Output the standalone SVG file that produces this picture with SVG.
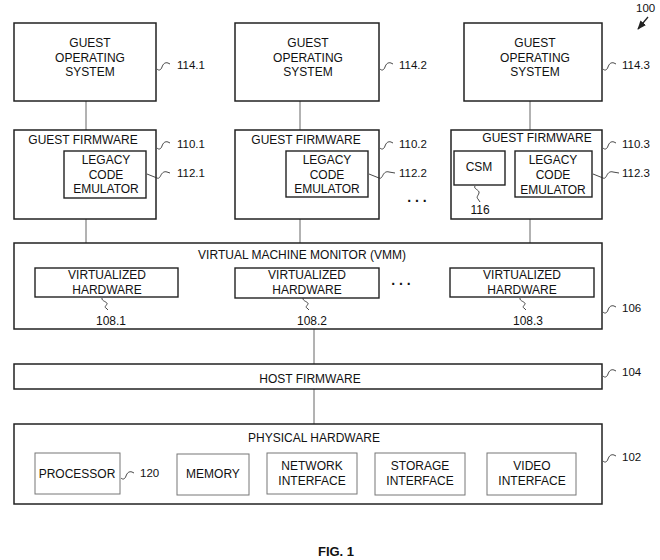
<svg xmlns="http://www.w3.org/2000/svg" width="660" height="560" viewBox="0 0 660 560">
<style>
text{font-family:"Liberation Sans",Arial,sans-serif;font-size:12px;fill:#111;text-anchor:middle}
.lbl{text-anchor:start;font-size:11.5px}
.box{fill:#fff;stroke:#222;stroke-width:1.5}
.ibox{fill:#fff;stroke:#222;stroke-width:1.4}
.hbox{fill:#fff;stroke:#777;stroke-width:1}
.con{stroke:#666;stroke-width:1;fill:none}
.sq{stroke:#333;stroke-width:0.9;fill:none}
.dots{font-size:14px;font-weight:bold}
</style>
<defs>
<marker id="ah" viewBox="0 0 10 10" refX="9" refY="5" markerWidth="7" markerHeight="7" orient="auto-start-reverse"><path d="M0,1 L10,5 L0,9 z" fill="#222"/></marker>
<path id="sqh" d="M0,0 c2,2 4,1 5,-2 s3,-5 6,-4 l2,1"/>
</defs>

<g id="connectors">
<line class="con" x1="86" y1="101" x2="86" y2="130"/>
<line class="con" x1="300" y1="101" x2="300" y2="130"/>
<line class="con" x1="530" y1="101" x2="530" y2="130"/>
<line class="con" x1="86" y1="219" x2="86" y2="243"/>
<line class="con" x1="300" y1="219" x2="300" y2="243"/>
<line class="con" x1="530" y1="219" x2="530" y2="243"/>
<line class="con" x1="314" y1="329" x2="314" y2="364"/>
<line class="con" x1="314" y1="389" x2="314" y2="424"/>
</g>

<g id="ref100">
<text class="lbl" x="636" y="12">100</text>
<line x1="648" y1="17" x2="638" y2="29" stroke="#222" stroke-width="1.3" marker-end="url(#ah)"/>
</g>

<g id="guest-os-1">
<rect class="box" x="14" y="23" width="142" height="78"/>
<text x="90" y="47">GUEST</text><text x="90" y="62">OPERATING</text><text x="90" y="76">SYSTEM</text>
<use href="#sqh" class="sq" x="157" y="69"/>
<text class="lbl" x="177" y="69">114.1</text>
</g>
<g id="guest-os-2">
<rect class="box" x="235" y="23" width="144" height="78"/>
<text x="308" y="47">GUEST</text><text x="308" y="62">OPERATING</text><text x="308" y="76">SYSTEM</text>
<use href="#sqh" class="sq" x="380" y="69"/>
<text class="lbl" x="399" y="69">114.2</text>
</g>
<g id="guest-os-3">
<rect class="box" x="464" y="23" width="138" height="78"/>
<text x="535" y="47">GUEST</text><text x="535" y="62">OPERATING</text><text x="535" y="76">SYSTEM</text>
<use href="#sqh" class="sq" x="603" y="69"/>
<text class="lbl" x="622" y="69">114.3</text>
</g>

<g id="guest-fw-1">
<rect class="box" x="14" y="130" width="142" height="89"/>
<text x="83" y="144">GUEST FIRMWARE</text>
<use href="#sqh" class="sq" x="157" y="148"/>
<text class="lbl" x="177" y="148">110.1</text>
</g>
<g id="lce-1">
<rect class="ibox" x="64" y="151" width="82" height="47"/>
<text x="106" y="164">LEGACY</text><text x="106" y="179">CODE</text><text x="106" y="193">EMULATOR</text>
<path class="sq" d="M147,174 l10,4 c2,1 3,-1 4,-3 s3,-4 6,-3 l3,1"/>
<text class="lbl" x="177" y="177">112.1</text>
</g>

<g id="guest-fw-2">
<rect class="box" x="235" y="130" width="144" height="89"/>
<text x="306" y="144">GUEST FIRMWARE</text>
<use href="#sqh" class="sq" x="380" y="148"/>
<text class="lbl" x="399" y="148">110.2</text>
</g>
<g id="lce-2">
<rect class="ibox" x="286" y="151" width="82" height="46"/>
<text x="327" y="164">LEGACY</text><text x="327" y="179">CODE</text><text x="327" y="193">EMULATOR</text>
<path class="sq" d="M369,174 l10,4 c2,1 3,-1 4,-3 s3,-4 6,-3 l6,1"/>
<text class="lbl" x="399" y="177">112.2</text>
</g>
<text class="dots" x="417" y="202">. . .</text>

<g id="guest-fw-3">
<rect class="box" x="451" y="130" width="151" height="89"/>
<text x="537" y="142">GUEST FIRMWARE</text>
<use href="#sqh" class="sq" x="603" y="148"/>
<text class="lbl" x="622" y="148">110.3</text>
</g>
<g id="csm">
<rect class="ibox" x="454" y="151" width="51" height="34"/>
<text x="479" y="171">CSM</text>
<path class="sq" d="M475,186 c-2,3 5,4 4,7 s-3,4 -1,6 l2,3"/>
<text x="480" y="214">116</text>
</g>
<g id="lce-3">
<rect class="ibox" x="515" y="151" width="77" height="46"/>
<text x="553" y="164">LEGACY</text><text x="553" y="179">CODE</text><text x="553" y="194">EMULATOR</text>
<path class="sq" d="M593,174 l10,4 c2,1 3,-1 4,-3 s3,-4 6,-3 l6,1"/>
<text class="lbl" x="622" y="177">112.3</text>
</g>

<g id="vmm">
<rect class="box" x="14" y="243" width="588" height="86"/>
<text x="302" y="259">VIRTUAL MACHINE MONITOR (VMM)</text>
<use href="#sqh" class="sq" x="603" y="312"/>
<text class="lbl" x="622" y="312">106</text>
</g>
<g id="vh-1">
<rect class="ibox" x="35" y="268" width="143" height="29"/>
<text x="107" y="279">VIRTUALIZED</text><text x="107" y="294">HARDWARE</text>
<path class="sq" d="M102,298 c-1,3 6,4 5,6 s-3,3 -1,4 l2,2"/>
<text x="111" y="325">108.1</text>
</g>
<g id="vh-2">
<rect class="ibox" x="235" y="268" width="144" height="30"/>
<text x="307" y="279">VIRTUALIZED</text><text x="307" y="294">HARDWARE</text>
<path class="sq" d="M303,298 c-1,3 6,4 5,6 s-3,3 -1,4 l2,2"/>
<text x="312" y="325">108.2</text>
</g>
<text class="dots" x="401" y="285">. . .</text>
<g id="vh-3">
<rect class="ibox" x="450" y="268" width="144" height="29"/>
<text x="522" y="279">VIRTUALIZED</text><text x="522" y="294">HARDWARE</text>
<path class="sq" d="M520,298 c-1,3 6,4 5,6 s-3,3 -1,4 l2,2"/>
<text x="528" y="325">108.3</text>
</g>

<g id="host-fw">
<rect class="box" x="14" y="364" width="588" height="25"/>
<text x="310" y="383">HOST FIRMWARE</text>
<use href="#sqh" class="sq" x="603" y="376"/>
<text class="lbl" x="622" y="376">104</text>
</g>

<g id="phys-hw">
<rect class="box" x="14" y="424" width="588" height="80"/>
<text x="314" y="442">PHYSICAL HARDWARE</text>
<use href="#sqh" class="sq" x="603" y="461"/>
<text class="lbl" x="622" y="461">102</text>
</g>
<g id="processor">
<rect class="hbox" x="35" y="453" width="85" height="41"/>
<text x="77" y="478">PROCESSOR</text>
<use href="#sqh" class="sq" x="121" y="478"/>
<text class="lbl" x="140" y="477">120</text>
</g>
<g id="memory">
<rect class="hbox" x="177" y="454" width="72" height="41"/>
<text x="213" y="478">MEMORY</text>
</g>
<g id="network">
<rect class="hbox" x="267" y="453" width="90" height="41"/>
<text x="312" y="470">NETWORK</text><text x="312" y="485">INTERFACE</text>
</g>
<g id="storage">
<rect class="hbox" x="375" y="453" width="90" height="42"/>
<text x="420" y="470">STORAGE</text><text x="420" y="485">INTERFACE</text>
</g>
<g id="video">
<rect class="hbox" x="487" y="453" width="89" height="42"/>
<text x="532" y="470">VIDEO</text><text x="532" y="485">INTERFACE</text>
</g>

<text x="336" y="556" style="font-weight:bold;font-size:13px">FIG. 1</text>
</svg>
